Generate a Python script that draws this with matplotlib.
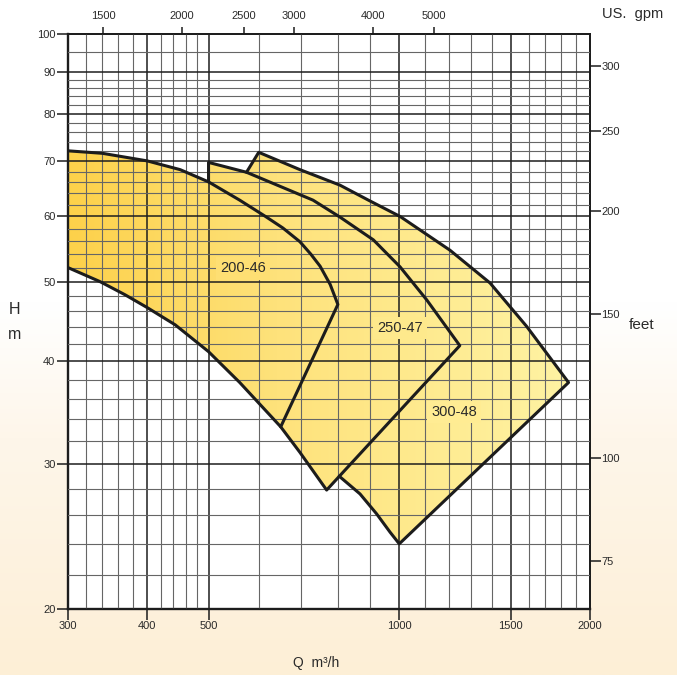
import numpy as np
import matplotlib

matplotlib.use("Agg")
import matplotlib.pyplot as plt
from matplotlib.colors import LinearSegmentedColormap
from matplotlib.patches import Polygon
from matplotlib.ticker import NullFormatter, NullLocator

GPM_PER_M3H = 4.402868
FT_PER_M = 3.28084

# pump ranges: Q in m3/h, H in m
Q200_TOP = [300, 340, 400, 451, 500, 560, 615, 655, 697, 725, 750, 778, 800]
H200_TOP = [72.1, 71.6, 70.1, 68.4, 66.1, 62.8, 60.0, 58.1, 55.9, 54.0,
            52.2, 49.6, 46.9]
# lower limit shared by 200-46 (up to 650) and 250-47 (650 onwards)
Q_LOWER = [300, 337, 369, 400, 443, 500, 560, 650, 697, 768]
H_LOWER = [52.0, 50.0, 48.2, 46.5, 44.3, 41.1, 37.7, 33.3, 31.0, 27.9]

Q250_LEFT = [500, 500]
H250_LEFT = [66.1, 69.8]
Q250_TOP = [500, 574, 731, 806, 910, 1003, 1105, 1246]
H250_TOP = [69.8, 67.9, 62.8, 59.9, 56.2, 52.1, 47.5, 41.8]

Q300_LEFT = [574, 600]
H300_LEFT = [67.9, 71.8]
Q300_TOP = [600, 697, 806, 894, 1003, 1202, 1391, 1589, 1850]
H300_TOP = [71.8, 68.4, 65.5, 62.8, 60.0, 54.6, 49.8, 44.1, 37.7]
Q300_LOW = [1000, 967, 921, 867, 804]
H300_LOW = [24.0, 24.8, 26.1, 27.6, 29.0]

LABELS = ["200-46", "250-47", "300-48"]
LABEL_Q = [567, 1003, 1220]
LABEL_H = [51.9, 43.9, 34.7]

Q_TICKS = [300, 400, 500, 1000, 1500, 2000]
H_TICKS = [20, 30, 40, 50, 60, 70, 80, 90, 100]
GPM_TICKS = [1500, 2000, 2500, 3000, 4000, 5000]
FT_TICKS = [75, 100, 150, 200, 250, 300]
Q_GRID = [q for q in list(range(320, 500, 20)) + list(range(600, 2000, 100))
          if q not in Q_TICKS]
H_GRID = [h for h in list(range(22, 90, 2)) + [95] if h not in H_TICKS]

plt.rcParams["font.family"] = ["Liberation Sans", "DejaVu Sans"]
INK = "#1c1c1c"

fig = plt.figure(figsize=(6.77, 6.75), dpi=100)

# cream-to-white page background
bg = fig.add_axes([0, 0, 1, 1], zorder=-10)
bg_cmap = LinearSegmentedColormap.from_list(
    "bg", [(0, "#fdefd6"), (0.35, "#fef6ea"), (0.55, "#ffffff"), (1, "#ffffff")])
bg.imshow(np.linspace(0, 1, 256)[:, None], cmap=bg_cmap, aspect="auto",
          origin="lower", extent=[0, 1, 0, 1])
bg.axis("off")

ax = fig.add_axes([0.1004, 0.0978, 0.7711, 0.8519])
ax.set_xscale("log")
ax.set_yscale("log")
ax.set_autoscale_on(False)
ax.set_xlim(300, 2000)
ax.set_ylim(20, 100)
ax.set_facecolor("white")

fill_cmap = LinearSegmentedColormap.from_list(
    "fill", [(0, "#fdd14a"), (0.4, "#fee27b"), (1, "#fff4a6")])
grad = np.linspace(0, 1, 256)[None, :]

n200 = Q_LOWER.index(650)
shapes = [
    (Q200_TOP + Q_LOWER[:n200 + 1][::-1], H200_TOP + H_LOWER[:n200 + 1][::-1]),
    (Q250_LEFT + Q250_TOP + Q_LOWER[n200:][::-1],
     H250_LEFT + H250_TOP + H_LOWER[n200:][::-1]),
    (Q300_LEFT + Q300_TOP + Q300_LOW, H300_LEFT + H300_TOP + H300_LOW),
]
# the gradient depends on x only, so overlapping fills look seamless
for qs, hs in shapes:
    poly = Polygon(np.column_stack([qs, hs]), closed=True,
                   facecolor="none", edgecolor="none")
    ax.add_patch(poly)
    im = ax.imshow(grad, cmap=fill_cmap, extent=[0, 1, 0, 1],
                   transform=ax.transAxes, aspect="auto", zorder=1)
    im.set_clip_path(poly)
ax.set_xlim(300, 2000)
ax.set_ylim(20, 100)

# visible outlines (open paths, hidden parts left out)
for qs, hs in shapes:
    ax.plot(qs, hs, color=INK, lw=2.2, solid_joinstyle="round",
            solid_capstyle="round", zorder=3)

for lab, q, h in zip(LABELS, LABEL_Q, LABEL_H):
    fx = ax.transAxes.inverted().transform(ax.transData.transform((q, h)))[0]
    ax.text(q, h, lab, ha="center", va="center", fontsize=10.5,
            color="#2a2a2a", zorder=4,
            bbox=dict(boxstyle="square,pad=0.3", fc=fill_cmap(fx), ec="none"))

# grid and ticks
ax.set_axisbelow(False)
ax.set_xticks(Q_TICKS, labels=[str(v) for v in Q_TICKS])
ax.set_xticks(Q_GRID, minor=True)
ax.set_yticks(H_TICKS, labels=[str(v) for v in H_TICKS])
ax.set_yticks(H_GRID, minor=True)
ax.xaxis.set_minor_formatter(NullFormatter())
ax.yaxis.set_minor_formatter(NullFormatter())
ax.grid(which="major", color="#1e1e1e", lw=1.1)
ax.grid(which="minor", color="#666666", lw=0.8)
ax.tick_params(which="minor", length=0)
ax.tick_params(which="major", length=8, width=1.1, color=INK,
               labelsize=8, labelcolor="#2a2a2a", pad=1)
for side, w in [("left", 1.7), ("bottom", 1.7), ("top", 1.2), ("right", 1.2)]:
    ax.spines[side].set_linewidth(w)
    ax.spines[side].set_color(INK)

top = ax.secondary_xaxis("top", functions=(lambda q: q * GPM_PER_M3H,
                                           lambda g: g / GPM_PER_M3H))
top.set_xticks(GPM_TICKS, labels=[str(v) for v in GPM_TICKS])
top.xaxis.set_minor_locator(NullLocator())
top.tick_params(length=5, width=1.1, color=INK, labelsize=8,
                labelcolor="#2a2a2a", pad=4)
top.spines["top"].set_linewidth(1.2)

right = ax.secondary_yaxis("right", functions=(lambda m: m * FT_PER_M,
                                               lambda f: f / FT_PER_M))
right.set_yticks(FT_TICKS, labels=[str(v) for v in FT_TICKS])
right.yaxis.set_minor_locator(NullLocator())
right.tick_params(length=8, width=1.1, color=INK, labelsize=8,
                  labelcolor="#2a2a2a", pad=0)
right.spines["right"].set_linewidth(1.2)

fig.text(0.934, 0.979, "US.  gpm", ha="center", va="center", fontsize=10.5,
         color="#2a2a2a")
fig.text(0.948, 0.519, "feet", ha="center", va="center", fontsize=11,
         color="#2a2a2a")
fig.text(0.022, 0.541, "H", ha="center", va="center", fontsize=11.5,
         color="#2a2a2a")
fig.text(0.022, 0.505, "m", ha="center", va="center", fontsize=11.5,
         color="#2a2a2a")
fig.text(0.467, 0.018, "Q  m³/h", ha="center", va="center", fontsize=10,
         color="#2a2a2a")

fig.savefig("out.png", dpi=100)
